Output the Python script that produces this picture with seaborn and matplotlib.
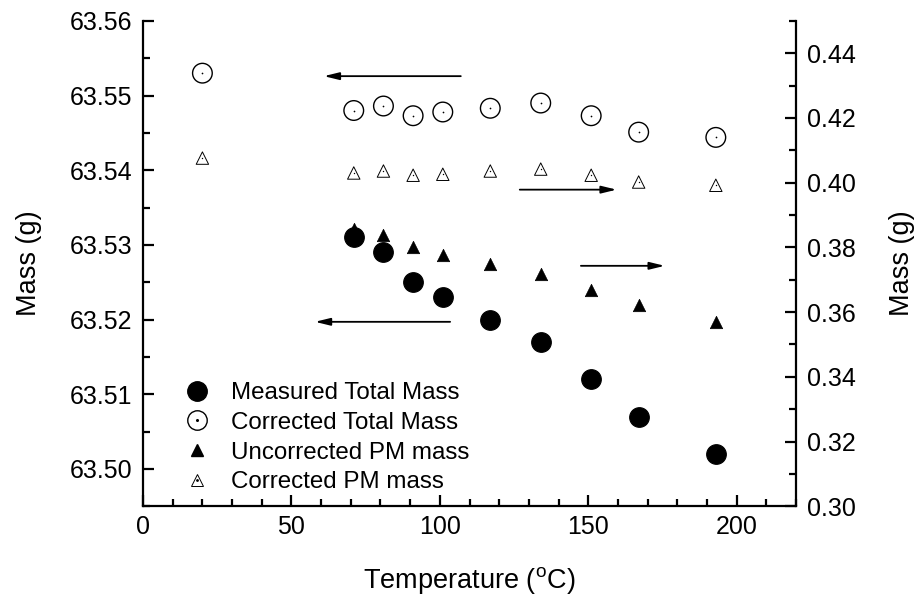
import numpy as np
import pandas as pd
import matplotlib
matplotlib.use("Agg")
import matplotlib.pyplot as plt
from matplotlib.ticker import MultipleLocator
from matplotlib.legend_handler import HandlerTuple
import seaborn as sns

# data
temp_total = [71, 81, 91, 101, 117, 134, 151, 167, 193]
measured_total = [63.531, 63.529, 63.525, 63.523, 63.520, 63.517, 63.512, 63.507, 63.502]

temp_corr = [20, 71, 81, 91, 101, 117, 134, 151, 167, 193]
corrected_total = [63.553, 63.548, 63.5486, 63.5473, 63.5478, 63.5483, 63.549, 63.5473, 63.5451, 63.5444]

temp_pm = [71, 81, 91, 101, 117, 134, 151, 167, 193]
uncorrected_pm = [0.3858, 0.3837, 0.3802, 0.3778, 0.375, 0.3718, 0.3669, 0.3622, 0.3569]

corrected_pm = [0.4076, 0.403, 0.4036, 0.4023, 0.4026, 0.4036, 0.4042, 0.4023, 0.4002, 0.3992]

sns.set_style("ticks")
plt.rcParams['font.family'] = ['Liberation Sans', 'DejaVu Sans']
plt.rcParams['mathtext.fontset'] = 'custom'
plt.rcParams['mathtext.rm'] = 'Liberation Sans'
for k in ("text.color", "axes.labelcolor", "xtick.color", "ytick.color", "axes.edgecolor"):
    plt.rcParams[k] = "black"

fig, ax = plt.subplots(figsize=(9.17, 5.97), dpi=100)
fig.subplots_adjust(left=0.156, right=0.868, top=0.965, bottom=0.152)
ax2 = ax.twinx()

df_meas = pd.DataFrame({"T": temp_total, "m": measured_total})
df_corr = pd.DataFrame({"T": temp_corr, "m": corrected_total})
df_unpm = pd.DataFrame({"T": temp_pm, "m": uncorrected_pm})
df_cpm = pd.DataFrame({"T": temp_corr, "m": corrected_pm})

sns.scatterplot(data=df_meas, x="T", y="m", ax=ax, marker="o", s=200,
                color="black", edgecolor="black", linewidth=0.8, zorder=3)
sns.scatterplot(data=df_corr, x="T", y="m", ax=ax, marker="o", s=200,
                facecolor="none", edgecolor="black", linewidth=1.0, zorder=3)
sns.scatterplot(data=df_corr, x="T", y="m", ax=ax, marker="o", s=1.5,
                color="black", linewidth=0, zorder=3)
sns.scatterplot(data=df_unpm, x="T", y="m", ax=ax2, marker="^", s=80,
                color="black", edgecolor="black", linewidth=0.5, zorder=3)
sns.scatterplot(data=df_cpm, x="T", y="m", ax=ax2, marker="^", s=80,
                facecolor="none", edgecolor="black", linewidth=0.7, zorder=3)
sns.scatterplot(data=df_cpm, x="T", y="m", ax=ax2, marker="o", s=1.0,
                color="black", linewidth=0, zorder=3)

ax.set_xlim(0, 220)
ax.set_ylim(63.495, 63.56)
ax2.set_ylim(0.30, 0.45)

ax.xaxis.set_major_locator(MultipleLocator(50))
ax.xaxis.set_minor_locator(MultipleLocator(10))
ax.yaxis.set_major_locator(MultipleLocator(0.01))
ax.yaxis.set_minor_locator(MultipleLocator(0.005))
ax.yaxis.set_major_formatter(matplotlib.ticker.FormatStrFormatter("%.2f"))
ax2.yaxis.set_major_locator(MultipleLocator(0.02))
ax2.yaxis.set_minor_locator(MultipleLocator(0.01))
ax2.yaxis.set_major_formatter(matplotlib.ticker.FormatStrFormatter("%.2f"))

for a in (ax, ax2):
    a.spines["top"].set_visible(False)
    for s in a.spines.values():
        s.set_linewidth(1.6)
    a.tick_params(which="major", direction="in", length=8, width=1.6,
                  labelsize=18, pad=8, color="black", labelcolor="black")
    a.tick_params(which="minor", direction="in", length=5, width=1.6, color="black")
ax.tick_params(axis="x", which="major", pad=6)
ax.spines["right"].set_visible(False)
ax2.spines["left"].set_visible(False)
ax2.spines["bottom"].set_visible(False)

ax.set_xlabel("Temperature ($^{\\mathregular{o}}$C)", fontsize=19.5, labelpad=19)
ax.set_ylabel("Mass (g)", fontsize=19.5, labelpad=20)
ax2.set_ylabel("Mass (g)", fontsize=19.5, labelpad=24)

# arrows pointing to the relevant axis
arrow = dict(arrowstyle="-|>,head_length=0.9,head_width=0.22", color="black", lw=1.3)
ax.annotate("", xy=(60, 63.5526), xytext=(108, 63.5526), arrowprops=arrow)
ax.annotate("", xy=(160.5, 63.5374), xytext=(126, 63.5374), arrowprops=arrow)
ax.annotate("", xy=(176.7, 63.5272), xytext=(146.6, 63.5272), arrowprops=arrow)
ax.annotate("", xy=(57, 63.5197), xytext=(104.4, 63.5197), arrowprops=arrow)

# legend
h1 = plt.Line2D([], [], ls="none", marker="o", ms=14, color="black")
h2 = plt.Line2D([], [], ls="none", marker="o", ms=14, mfc="none", mec="black", mew=1.0)
h2d = plt.Line2D([], [], ls="none", marker="o", ms=1.2, color="black")
h3 = plt.Line2D([], [], ls="none", marker="^", ms=9, color="black")
h4 = plt.Line2D([], [], ls="none", marker="^", ms=9, mfc="none", mec="black", mew=0.7)
h4d = plt.Line2D([], [], ls="none", marker="o", ms=1.0, color="black")
ax.legend([h1, (h2, h2d), h3, (h4, h4d)],
          ["Measured Total Mass", "Corrected Total Mass",
           "Uncorrected PM mass", "Corrected PM mass"],
          handler_map={tuple: HandlerTuple(ndivide=1)},
          loc="lower left", bbox_to_anchor=(0.025, -0.018), frameon=False,
          fontsize=17.4, labelspacing=0.32, handletextpad=0.75, handlelength=1.3)

fig.savefig("out.png", dpi=100)
